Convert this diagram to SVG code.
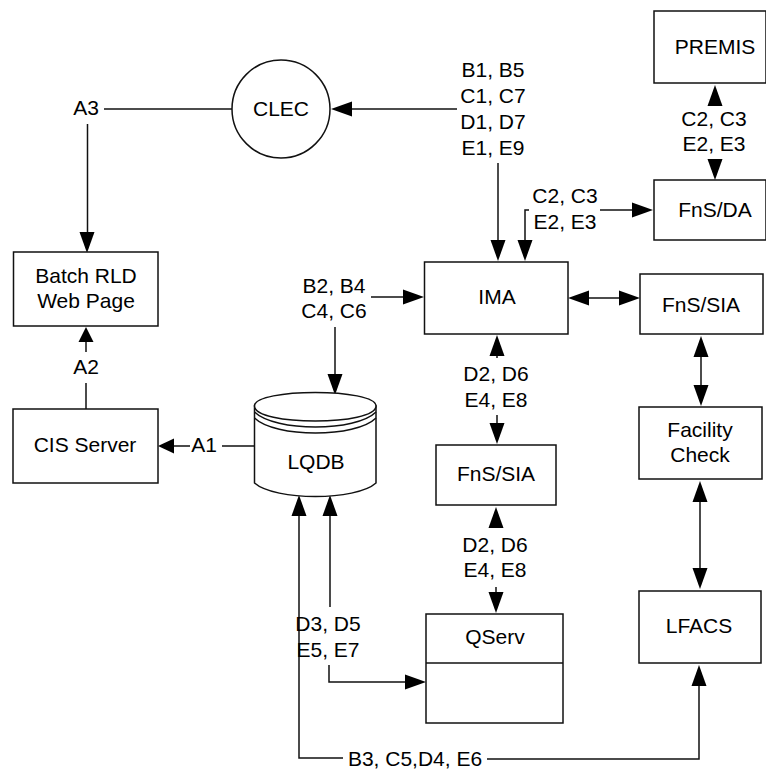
<svg xmlns="http://www.w3.org/2000/svg" width="766" height="769" viewBox="0 0 766 769">
<style>
.b{fill:#fff;stroke:#111;stroke-width:1.5}
.c{fill:none;stroke:#111;stroke-width:1.5}
.h{fill:#000}
text{font-family:"Liberation Sans",Arial,sans-serif;font-size:21px;fill:#000;text-anchor:middle}
</style>
<defs>
<polygon id="d" class="h" points="0,0 -7.5,-21 7.5,-21"/>
<polygon id="u" class="h" points="0,0 -7.5,21 7.5,21"/>
<polygon id="r" class="h" points="0,0 -21,-7.5 -21,7.5"/>
<polygon id="l" class="h" points="0,0 21,-7.5 21,7.5"/>
</defs>
<rect width="766" height="769" fill="#fff"/>
<g id="connectors">
<path class="c" d="M232 109H104"/>
<path class="c" d="M87.500 124V238"/>
<path class="c" d="M86 409V383M86 352V340"/>
<path class="c" d="M254 446H222M190 446H172"/>
<path class="c" d="M457 109H350"/>
<path class="c" d="M498 163V242"/>
<path class="c" d="M529 210H525V242"/>
<path class="c" d="M600 210H634"/>
<path class="c" d="M586 298H622"/>
<path class="c" d="M371 297H405"/>
<path class="c" d="M335 327V376"/>
<path class="c" d="M497 356V358M497 415V425"/>
<path class="c" d="M496 587V594"/>
<path class="c" d="M701 355V387"/>
<path class="c" d="M700 500V570"/>
<path class="c" d="M330 515V607M329 665V682H405"/>
<path class="c" d="M299 515V758H343M487 759H699V684"/>
<use href="#d" x="87" y="253"/>
<polygon class="h" points="86,327 78.500,342 93.500,342"/>
<polygon class="h" points="158,446 174,438.500 174,453.500"/>
<use href="#l" x="331" y="109"/>
<use href="#d" x="498" y="261"/>
<use href="#d" x="525" y="261"/>
<use href="#r" x="653" y="210"/>
<use href="#u" x="715" y="85"/>
<use href="#d" x="715" y="180"/>
<use href="#l" x="568" y="298"/>
<use href="#r" x="640" y="298"/>
<use href="#r" x="424" y="297"/>
<use href="#d" x="335" y="395"/>
<use href="#u" x="497" y="335"/>
<use href="#d" x="497" y="444"/>
<use href="#u" x="496" y="507"/>
<use href="#d" x="496" y="613"/>
<use href="#u" x="701" y="336"/>
<use href="#d" x="701" y="406"/>
<use href="#u" x="700" y="481"/>
<use href="#d" x="700" y="589"/>
<use href="#u" x="299" y="495"/>
<use href="#u" x="330" y="495"/>
<use href="#r" x="426" y="682"/>
<use href="#u" x="699" y="665"/>
</g>
<g id="clec"><circle class="b" cx="281" cy="109" r="49"/><text x="281" y="116">CLEC</text></g>
<g id="premis"><rect class="b" x="654" y="11" width="112" height="72"/><text x="715" y="54">PREMIS</text></g>
<g id="fnsda"><rect class="b" x="654" y="180" width="112" height="60"/><text x="715" y="217">FnS/DA</text></g>
<g id="ima"><rect class="b" x="424.500" y="262" width="143.500" height="72"/><text x="497" y="304">IMA</text></g>
<g id="fnssia1"><rect class="b" x="640" y="274" width="123" height="60"/><text x="701" y="312">FnS/SIA</text></g>
<g id="batch"><rect class="b" x="13.500" y="252" width="144.500" height="74"/><text x="86" y="283">Batch RLD</text><text x="86" y="308">Web Page</text></g>
<g id="cis"><rect class="b" x="13" y="409" width="145" height="74"/><text x="85" y="452">CIS Server</text></g>
<g id="lqdb">
<path class="b" d="M254.500 406V483C275 501 356 501 376 483V406Z"/>
<path class="b" d="M254.500 406C254.500 388 376 388 376 406C376 426 254.500 426 254.500 406Z"/>
<path class="c" d="M254.500 412C275 432 356 432 376 412M254.500 418C275 438 356 438 376 418"/>
<text x="316" y="469">LQDB</text></g>
<g id="fnssia2"><rect class="b" x="436" y="445" width="120" height="60"/><text x="496" y="481">FnS/SIA</text></g>
<g id="facility"><rect class="b" x="639" y="407" width="123" height="72"/><text x="700" y="437">Facility</text><text x="700" y="462">Check</text></g>
<g id="lfacs"><rect class="b" x="639" y="591" width="122" height="72"/><text x="699" y="633">LFACS</text></g>
<g id="qserv"><rect class="b" x="426" y="614" width="137" height="109"/><path class="c" d="M426 663H563"/><text x="495" y="644">QServ</text></g>
<g id="labels">
<text x="86" y="115">A3</text><text x="86" y="374">A2</text><text x="204" y="452">A1</text>
<text x="493" y="77">B1, B5</text><text x="493" y="103">C1, C7</text><text x="493" y="129">D1, D7</text><text x="493" y="155">E1, E9</text>
<text x="565" y="203">C2, C3</text><text x="565" y="229">E2, E3</text>
<text x="714" y="126">C2, C3</text><text x="714" y="151">E2, E3</text>
<text x="334" y="293">B2, B4</text><text x="334" y="318">C4, C6</text>
<text x="496" y="381">D2, D6</text><text x="496" y="407">E4, E8</text>
<text x="495" y="552">D2, D6</text><text x="495" y="577">E4, E8</text>
<text x="328" y="631">D3, D5</text><text x="328" y="657">E5, E7</text>
<text x="415" y="766">B3, C5,D4, E6</text>
</g>
</svg>
